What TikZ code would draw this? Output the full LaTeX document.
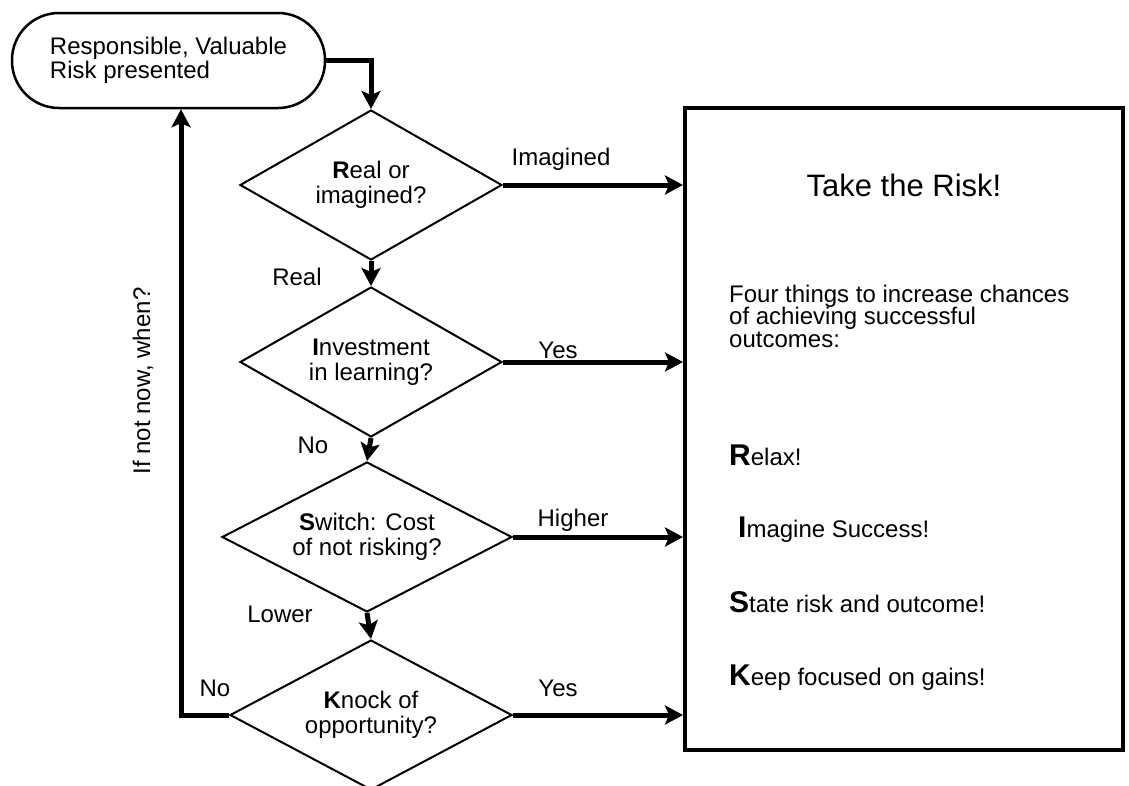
\documentclass[tikz,border=0pt]{standalone}
\usepackage{fontspec}
\setmainfont{Liberation Sans}
\usetikzlibrary{shapes.geometric,arrows.meta}

\begin{document}
\begin{tikzpicture}[
    x=1pt,y=-1pt,
    flow/.style={line width=5pt,-{Stealth[length=18pt,width=19pt,inset=4pt]}},
    decision/.style={draw,line width=2pt,diamond,aspect=1.75,inner sep=1pt,
      minimum width=262pt,minimum height=150pt,align=center,
      font=\fontsize{24}{25.5}\selectfont},
    lbl/.style={font=\fontsize{24}{25}\selectfont,inner sep=0pt},
    item/.style={anchor=base west,inner sep=0pt,font=\fontsize{24}{22.5}\selectfont}
    ]
    \useasboundingbox (0,0) rectangle (1129,785);
    \clip (0,0) rectangle (1129,785);
    \node[draw,line width=2.5pt,rounded corners=47pt,minimum width=313pt,minimum height=95pt,
      align=left,font=\fontsize{24}{23.5}\selectfont] (start) at (168.5,60.5)
      {Responsible, Valuable\\Risk presented};
    \node[decision] (real) at (371,185) {\textbf{R}eal or\\imagined?};
    \node[decision] (invest) at (371,362) {\textbf{I}nvestment\\in learning?};
    \node[decision,minimum width=290pt,aspect=1.93] (switch) at (367,537) {\textbf{S}witch: Cost\\of not risking?};
    \node[decision,minimum width=282pt,aspect=1.88] (knock) at (371,715) {\textbf{K}nock of\\opportunity?};
    \node[draw,line width=4pt,minimum width=438pt,minimum height=642pt] (risk) at (904,429) {};
    \node[font=\fontsize{31}{31}\selectfont] (take) at (904,185) {Take the Risk!};
    \node[item,align=left] (four) at (729,347) {Four things to increase chances\\of achieving successful\\outcomes:};
    \node[item] (relax) at (729,465) {{\fontsize{30}{30}\bfseries R}elax!};
    \node[item] (imagine) at (738,537) {{\fontsize{30}{30}\bfseries I}magine Success!};
    \node[item] (state) at (729,612) {{\fontsize{30}{30}\bfseries S}tate risk and outcome!};
    \node[item] (keep) at (729,685) {{\fontsize{30}{30}\bfseries K}eep focused on gains!};
    \coordinate (back) at (181,715);
    \draw[flow] (start.east) -| (real.north);
    \draw[flow] (real.south) -- (invest.north);
    \draw[flow] (invest.south) -- (switch.north);
    \draw[flow] (switch.south) -- (knock.north);
    \draw[flow] (real.east) -- (real.east -| risk.west);
    \draw[flow] (invest.east) -- (invest.east -| risk.west);
    \draw[flow] (switch.east) -- (switch.east -| risk.west);
    \draw[flow] (knock.east) -- (knock.east -| risk.west);
    \draw[flow] (knock.west) -- (back) -- (back |- start.south);
    \node[lbl] at (561,159) {Imagined};
    \node[lbl] at (297,277) {Real};
    \node[lbl] at (558,350) {Yes};
    \node[lbl] at (313,445) {No};
    \node[lbl] at (573,520) {Higher};
    \node[lbl] at (280,614) {Lower};
    \node[lbl] at (558,688) {Yes};
    \node[lbl] at (215,688) {No};
    \node[lbl,rotate=90] at (143,381) {If not now, when?};
\end{tikzpicture}
\end{document}
